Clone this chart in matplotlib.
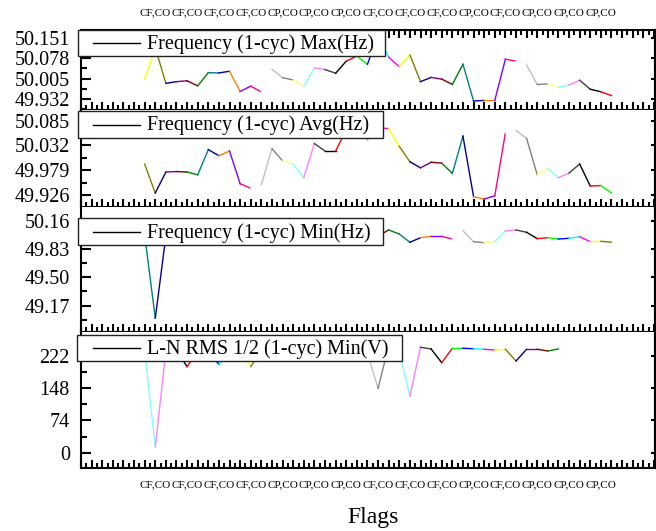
import matplotlib
matplotlib.use("Agg")
import matplotlib.pyplot as plt
import numpy as np
from matplotlib.ticker import FixedLocator, MultipleLocator
from matplotlib.patches import Rectangle
from matplotlib.lines import Line2D

plt.rcParams['font.family'] = ['Liberation Serif', 'DejaVu Serif']

# Origin's default colour increment list (segment colours cycle through it)
origin_colors = ['#000000', '#FF0000', '#00FF00', '#0000FF', '#00FFFF', '#FF00FF',
                 '#FFFF00', '#808000', '#000080', '#800080', '#800000', '#008000',
                 '#008080', '#0000A0', '#FF8000', '#8000FF', '#FF0080', '#FFFFFF',
                 '#C0C0C0', '#808080', '#FFFF80', '#80FFFF', '#FF80FF', '#404040']

# record numbers
idx_freq = list(range(6, 51))
idx_volt = list(range(6, 46))

freq_max = [50.003, 50.115, 49.988, 49.994, 49.997, 49.979, 50.026, 50.025, 50.031, 49.959,
            49.978, 49.957, 50.038, 50.008, 50.000, 49.977, 50.043, 50.037, 50.024, 50.067,
            50.085, 50.056, 50.160, 50.081, 50.047, 50.089, 49.994, 50.009, 50.003, 49.984,
            50.056, 49.925, 49.927, 49.927, 50.074, 50.067, 50.053, 49.984, 49.986, 49.974,
            49.982, 49.999, 49.967, 49.958, 49.944]
freq_avg = [49.992, 49.930, 49.975, 49.976, 49.975, 49.969, 50.023, 50.010, 50.020, 49.950,
            49.940, 49.948, 50.025, 49.999, 49.992, 49.963, 50.036, 50.020, 50.020, 50.066,
            50.080, 50.045, 50.070, 50.068, 50.030, 49.997, 49.984, 49.996, 49.994, 49.972,
            50.052, 49.922, 49.917, 49.924, 50.059, 50.064, 50.047, 49.969, 49.982, 49.963,
            49.973, 49.992, 49.945, 49.946, 49.930]
freq_min = [49.99, 49.024, 49.98, 49.99, 49.97, 50.01, 50.00, 49.96, 49.98, 50.02,
            49.99, 50.03, 49.97, 49.98, 49.95, 50.01, 50.04, 50.02, 49.98, 50.03,
            50.05, 50.01, 49.98, 50.050, 50.003, 49.907, 49.960, 49.976, 49.976, 49.945,
            50.041, 49.914, 49.902, 49.914, 50.038, 50.050, 50.023, 49.949, 49.960, 49.945,
            49.953, 49.972, 49.914, 49.918, 49.907]
vrms_min = [232, 13.7, 233, 234, 197, 233, 232, 202, 234, 233,
            197, 235, 234, 233, 236, 234, 235, 233, 236, 234,
            235, 228, 147.4, 245, 230, 129.8, 241.3, 237.4, 206.0, 239.0,
            239.0, 238.0, 236.7, 235.0, 236.7, 209.9, 236.7, 236.7, 232.8, 237.4]

flag_pos = [7, 10, 13, 16, 19, 22, 25, 28, 31, 34, 37, 40, 43, 46, 49]
flag_labels = ['CF,CO', 'CF,CO', 'CF,CO', 'CF,CO', 'CP,CO', 'CP,CO', 'CP,CO', 'CF,CO',
               'CF,CO', 'CF,CO', 'CP,CO', 'CF,CO', 'CP,CO', 'CP,CO', 'CP,CO']

names = ['Frequency (1-cyc) Max(Hz)', 'Frequency (1-cyc) Avg(Hz)',
         'Frequency (1-cyc) Min(Hz)', 'L-N RMS 1/2 (1-cyc) Min(V)']
yticks = [[49.932, 50.005, 50.078, 50.151],
          [49.926, 49.979, 50.032, 50.085],
          [49.17, 49.50, 49.83, 50.16],
          [0, 74, 148, 222]]
ytick_text = [['49.932', '50.005', '50.078', '50.151'],
              ['49.926', '49.979', '50.032', '50.085'],
              ['49.17', '49.50', '49.83', '50.16'],
              ['0', '74', '148', '222']]

# layout of the four stacked layers (figure pixels) and their settings
W, H = 656, 531
rows = [(30, 110), (110, 207), (207, 332), (332, 468)]
ylims = [(49.893, 50.178), (49.900, 50.108), (48.864, 50.317), (-34.8, 276.2)]
color_shift = [0, 1, 6, 15]
# legend boxes: left, right, top, bottom in pixels
leg_boxes = [(78, 385, 30, 56), (78, 383, 111, 138), (78, 383, 218.5, 245), (77, 402, 335, 361)]

fig = plt.figure(figsize=(W / 100, H / 100), dpi=100)
series = [(idx_freq, freq_max), (idx_freq, freq_avg), (idx_freq, freq_min), (idx_volt, vrms_min)]


def fx(px):
    return px / W


def fy(py):
    return 1 - py / H


xt = np.arange(0, 55)
xlab = [''] * len(xt)
for p, t in zip(flag_pos, flag_labels):
    xlab[p] = t

for k in range(4):
    top, bot = rows[k]
    ax = fig.add_axes([fx(81), fy(bot), 574 / W, (bot - top) / H])
    xs, ys = series[k]
    # every segment gets the next colour of the list
    for i in range(len(xs) - 1):
        c = origin_colors[(xs[i] + color_shift[k]) % 24]
        ax.plot(xs[i:i + 2], ys[i:i + 2], color=c, lw=1.0)

    ax.set_xlim(0, 54.1)
    ax.set_ylim(*ylims[k])
    ax.set_xticks(xt)
    ax.set_xticklabels(xlab, fontsize=8)
    ax.xaxis.set_minor_locator(MultipleLocator(0.5))
    ax.set_yticks(yticks[k])
    ax.set_yticklabels(ytick_text[k], fontsize=14.5)
    step = yticks[k][1] - yticks[k][0]
    ax.yaxis.set_minor_locator(FixedLocator([v + step / 2 for v in [yticks[k][0] - step] + yticks[k]]))

    ax.tick_params(axis='x', which='major', direction='in', length=6, width=1.5,
                   bottom=True, top=(k == 0), labelbottom=(k == 3), labeltop=(k == 0), pad=9)
    ax.tick_params(axis='x', which='minor', direction='in', length=3.5, width=1.5,
                   bottom=True, top=(k == 0))
    ax.tick_params(axis='y', which='major', direction='in', length=7, width=1.5,
                   left=True, right=False, pad=8)
    ax.tick_params(axis='y', which='minor', direction='in', length=4, width=1.5,
                   left=True, right=False)
    for s in ax.spines.values():
        s.set_linewidth(1.5)
    if k > 0:
        ax.spines['top'].set_visible(False)

    # short ticks on the right side
    sec = ax.secondary_yaxis('right')
    sec.set_yticks(yticks[k])
    sec.tick_params(direction='in', length=3, width=1.5, labelright=False)
    sec.spines['right'].set_linewidth(1.5)

    # legend box
    l, r, t, b = leg_boxes[k]
    fig.add_artist(Rectangle((fx(l), fy(b)), (r - l) / W, (b - t) / H, transform=fig.transFigure,
                             facecolor='white', edgecolor='#222222', lw=1.0, zorder=10))
    ym = (t + b) / 2
    fig.add_artist(Line2D([fx(93), fx(140)], [fy(ym), fy(ym)], transform=fig.transFigure,
                          color='black', lw=1.0, zorder=11))
    fig.text(fx(147), fy(ym + 1), names[k], ha='left', va='center', fontsize=14.5, zorder=11)

fig.text(fx(373), fy(517), 'Flags', ha='center', va='center', fontsize=17)

fig.savefig('out.png', dpi=100)
